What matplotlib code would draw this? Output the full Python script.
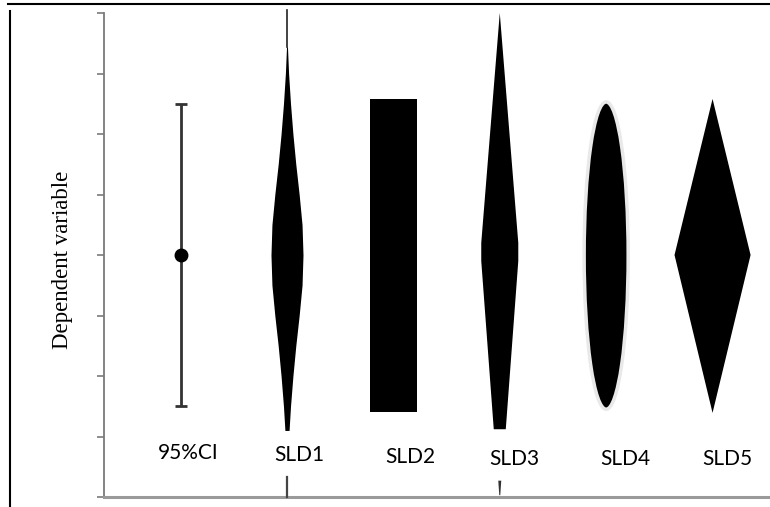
import matplotlib
matplotlib.use("Agg")
import matplotlib.pyplot as plt
from matplotlib.lines import Line2D
from matplotlib.patches import Rectangle, Ellipse, Polygon
import numpy as np

# ---------------- data ----------------
categories = ["95%CI", "SLD1", "SLD2", "SLD3", "SLD4", "SLD5"]
y_ticks = [0, 1, 2, 3, 4, 5, 6, 7, 8]

ci_center = 4.0
ci_low = 1.5
ci_high = 6.5

# SLD1: violin profile (level, relative half-width)
sld1_levels = [7.44, 7.0, 6.5, 6.0, 5.5, 5.0, 4.5, 4.0, 3.5, 3.0, 2.5, 2.0, 1.5, 1.1]
sld1_density = [0.03, 0.1, 0.22, 0.37, 0.55, 0.76, 0.94, 1.0, 0.94, 0.76, 0.55, 0.37, 0.22, 0.13]
sld1_whisker_top = 8.05

# SLD2: rectangle
sld2_low = 1.40
sld2_high = 6.58

# SLD3: long diamond
sld3_low = 1.12
sld3_mid = 4.05
sld3_high = 8.0

# SLD4: ellipse
sld4_low = 1.45
sld4_high = 6.53

# SLD5: diamond
sld5_low = 1.39
sld5_mid = 4.0
sld5_high = 6.58

# ---------------- layout / style ----------------
W, H = 770, 507
fig = plt.figure(figsize=(W / 100, H / 100), dpi=100)
ax = fig.add_axes([104 / W, 10 / H, 666 / W, 484 / H])
ax.set_xlim(-0.72, 5.54)
ax.set_ylim(0, 8)

for s in ("top", "right"):
    ax.spines[s].set_visible(False)
ax.spines["left"].set_color("#7a7a7a")
ax.spines["left"].set_linewidth(1.3)
ax.spines["bottom"].set_color("#9a9a9a")
ax.spines["bottom"].set_linewidth(2.2)
ax.set_yticks(y_ticks)
ax.set_yticklabels([])
ax.tick_params(axis="y", direction="out", length=5, width=1.2, color="#7a7a7a")
ax.set_xticks([])

xpos = np.arange(len(categories))
px = 106.3  # pixels per x unit

# 95% CI
ax.errorbar([xpos[0]], [ci_center], yerr=[[ci_center - ci_low], [ci_high - ci_center]],
            fmt="o", color="black", ecolor="#333333", elinewidth=2.0, capsize=4,
            capthick=2.0, markersize=9, zorder=3)

# SLD1 violin
lv = np.array(sld1_levels)
hw = np.array(sld1_density) * 16 / px
ax.fill_betweenx(lv, xpos[1] - hw, xpos[1] + hw, color="black", lw=0, zorder=3)
ax.plot([xpos[1], xpos[1]], [sld1_levels[0], sld1_whisker_top], color="#222222", lw=1.2,
        clip_on=False, zorder=3)
ax.plot([xpos[1], xpos[1]], [0, 0.33], color="#444444", lw=1.6, clip_on=False, zorder=3)

# SLD2 rectangle
ax.add_patch(Rectangle((xpos[2] - 23.5 / px, sld2_low), 47 / px, sld2_high - sld2_low,
                       facecolor="black", edgecolor="none", zorder=3))

# SLD3 long diamond
w3 = 18.5 / px
b3 = 6 / px
ax.add_patch(Polygon([(xpos[3], sld3_high), (xpos[3] + w3, sld3_mid + 0.15),
                      (xpos[3] + w3, sld3_mid - 0.15), (xpos[3] + b3, sld3_low),
                      (xpos[3] - b3, sld3_low), (xpos[3] - w3, sld3_mid - 0.15),
                      (xpos[3] - w3, sld3_mid + 0.15)],
                     closed=True, facecolor="black", edgecolor="none", zorder=3, clip_on=False))
ax.add_patch(Polygon([(xpos[3] - 1.5 / px, 0.27), (xpos[3] + 1.5 / px, 0.27),
                      (xpos[3] + 0.5 / px, 0.03), (xpos[3] - 0.5 / px, 0.03)],
                     closed=True, facecolor="#333333", edgecolor="none", zorder=3, clip_on=False))

# SLD4 ellipse
ax.add_patch(Ellipse((xpos[4], (sld4_low + sld4_high) / 2), 44 / px, sld4_high - sld4_low,
                     facecolor="black", edgecolor="#e9e9e9", lw=2.5, zorder=3))

# SLD5 diamond
w5 = 38 / px
ax.add_patch(Polygon([(xpos[5], sld5_high), (xpos[5] + w5, sld5_mid),
                      (xpos[5], sld5_low), (xpos[5] - w5, sld5_mid)],
                     closed=True, facecolor="black", edgecolor="none", zorder=3))

# category labels
label_dx = [0.07, 0.12, 0.155, 0.14, 0.18, 0.14]
label_y = [0.73, 0.69, 0.66, 0.63, 0.63, 0.63]
for i, lab in enumerate(categories):
    ax.text(xpos[i] + label_dx[i], label_y[i], lab, ha="center", va="center",
            fontfamily="Lato", fontsize=15, color="black", zorder=4)

ax.set_ylabel("Dependent variable", fontfamily="Liberation Serif", fontsize=16.5)
ax.yaxis.set_label_coords(-0.047, 0.49)

# outer frame lines
fig.add_artist(Line2D([8 / W, 1], [1 - 4 / H, 1 - 4 / H], color="black", lw=1.5,
                      transform=fig.transFigure))
fig.add_artist(Line2D([9.5 / W, 9.5 / W], [1 - 11 / H, 0], color="black", lw=1.5,
                      transform=fig.transFigure))

fig.savefig("out.png", dpi=100)
